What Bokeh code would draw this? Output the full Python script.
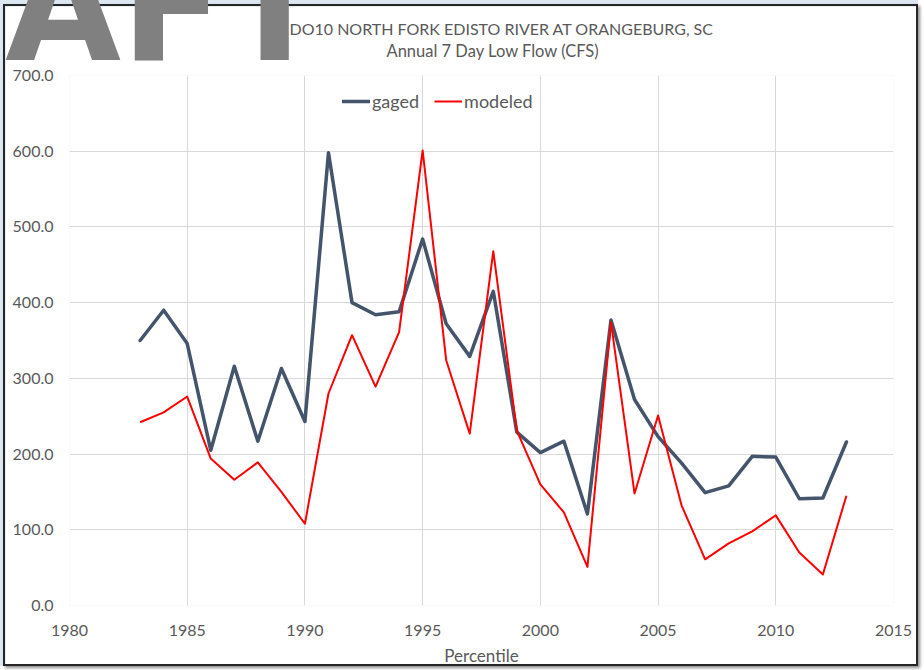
from bokeh.plotting import figure
from bokeh.models import (ColumnDataSource, FixedTicker, NumeralTickFormatter,
                          Legend, LegendItem, Range1d, Title, Div)
from bokeh.layouts import column
from bokeh.embed import file_html
from bokeh.resources import INLINE

# ---------------- data ----------------
years = list(range(1983, 2014))
gaged = [350, 390, 346, 205, 316, 217, 313, 243, 598, 400, 384, 388, 484, 372, 329, 415,
         229, 202, 217, 121, 377, 272, 223, 188, 149, 158, 197, 196, 141, 142, 216]
modeled = [242, 255, 276, 194, 166, 189, 150, 108, 280, 357, 289, 361, 601, 324, 227, 468,
           231, 160, 123, 51, 374, 148, 251, 132, 61, 82, 98, 119, 70, 41, 145]
x_ticks = [1980, 1985, 1990, 1995, 2000, 2005, 2010, 2015]
y_ticks = [0, 100, 200, 300, 400, 500, 600, 700]
series_names = ["gaged", "modeled"]
title_line1 = "DO10 NORTH FORK EDISTO RIVER AT ORANGEBURG, SC"
title_line2 = "Annual 7 Day Low Flow (CFS)"
x_title = "Percentile"
watermark = "AFT"

FONT = "Lato"
TXT = "#595959"
GRID = "#d9d9d9"

src = ColumnDataSource(data=dict(year=years, gaged=gaged, modeled=modeled))

p = figure(width=915, height=662, output_backend="svg", toolbar_location=None,
           x_range=Range1d(1980, 2015), y_range=Range1d(0, 700),
           min_border_left=64, min_border_right=27, min_border_top=69, min_border_bottom=59)
p.styles = {"border": "2px solid #262626", "box-shadow": "2px 2px 3px #8c8c8c",
            "margin-left": "3px", "margin-top": "4px"}
p.title.visible = False
p.outline_line_color = None
p.background_fill_color = "white"
p.border_fill_color = "white"

for ax in (p.xaxis[0], p.yaxis[0]):
    ax.axis_line_color = None
    ax.major_tick_line_color = None
    ax.minor_tick_line_color = None
    ax.major_label_text_font = FONT
    ax.major_label_text_font_size = "16px"
    ax.major_label_text_color = TXT

p.xaxis.ticker = FixedTicker(ticks=x_ticks)
p.yaxis.ticker = FixedTicker(ticks=y_ticks)
p.yaxis.formatter = NumeralTickFormatter(format="0.0")
p.xaxis.major_label_standoff = 13
p.yaxis.major_label_standoff = 10
p.xaxis.axis_label = x_title
p.xaxis.axis_label_text_font = FONT
p.xaxis.axis_label_text_font_size = "17px"
p.xaxis.axis_label_text_font_style = "normal"
p.xaxis.axis_label_text_color = TXT
p.xaxis.axis_label_standoff = 6

p.xgrid.ticker = FixedTicker(ticks=x_ticks)
p.ygrid.ticker = FixedTicker(ticks=y_ticks)
p.xgrid.grid_line_color = GRID
p.ygrid.grid_line_color = GRID

r1 = p.line("year", "gaged", source=src, line_color="#44546a", line_width=3.5,
            line_join="round", line_cap="round")
r2 = p.line("year", "modeled", source=src, line_color="#ff0000", line_width=2,
            line_join="round")

legend = Legend(items=[LegendItem(label=series_names[0], renderers=[r1]),
                       LegendItem(label=series_names[1], renderers=[r2])],
                orientation="horizontal", location=(273, 493),
                padding=0, margin=0, spacing=15, label_standoff=2,
                glyph_width=28, glyph_height=20, label_height=20,
                border_line_color=None, background_fill_alpha=0,
                label_text_font=FONT, label_text_font_size="18px", label_text_color=TXT)
p.add_layout(legend)

# small spacer between the plot frame and the two-line title
p.add_layout(Title(text=" ", standoff=11, text_font_size="2px"), "above")
p.add_layout(Title(text=title_line2, align="left", offset=317, standoff=0,
                   text_font=FONT, text_font_size="16.5px", text_font_style="normal",
                   text_color=TXT), "above")
p.add_layout(Title(text=title_line1, align="left", offset=220, standoff=2,
                   text_font=FONT, text_font_size="16px", text_font_style="normal",
                   text_color=TXT), "above")

# large grey watermark, partly cut off by the top edge of the page
wm = Div(text=watermark, width=400, height=200,
         styles={"position": "absolute", "left": "0px", "top": "-72px", "z-index": "10",
                 "font-family": "DejaVu Sans", "font-weight": "bold", "font-size": "150px",
                 "line-height": "150px", "color": "#808080", "pointer-events": "none"})

root = column(p, wm, styles={"background-color": "#dde7f2"})
open("out.html", "w").write(file_html(root, INLINE))
